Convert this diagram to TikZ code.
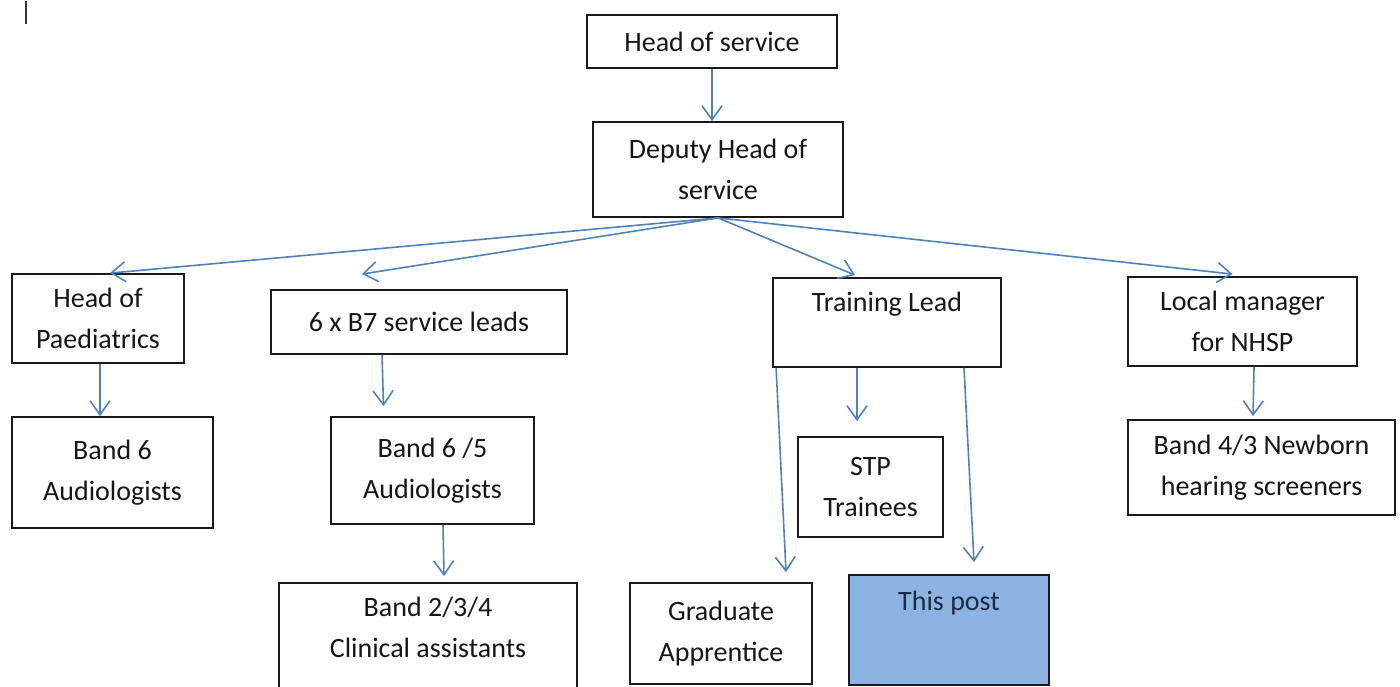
\documentclass[tikz,border=0pt]{standalone}
\usepackage{fontspec}
\setmainfont{Carlito}
\usetikzlibrary{arrows.meta,calc}
\definecolor{arrblue}{HTML}{4F81BD}
\definecolor{postfill}{HTML}{8DB3E2}
\definecolor{posttext}{HTML}{1C2B45}
\definecolor{txtgrey}{HTML}{161616}
\tikzset{
  box/.style={draw=black!90, line width=0.9pt, inner sep=0pt, align=center,
    text=txtgrey, font=\fontsize{14}{20.5}\selectfont},
  arr/.style={draw=arrblue, line width=0.8pt,
    -{Straight Barb[length=7pt,width=10pt,line width=0.8pt]}},
}
\newcommand\bx[7][]{%
  \node[box,#1,minimum width={(#5-#3)*0.5pt},minimum height={(#6-#4)*0.5pt}]
    (#2) at ({(#3+#5)/2},{(#4+#6)/2}) {#7};}
\begin{document}
\begin{tikzpicture}[x=0.5pt,y=-0.5pt]
\useasboundingbox (0,0) rectangle (1400,686);
\clip (0,0) rectangle (1400,686);
\draw[line width=1.3pt, black!80] (26,1) -- (26,24);
\bx{hos}{587}{15}{837}{68}{Head of service}
\bx{dep}{593}{122}{843}{217}{Deputy Head of\\service}
\bx{hp}{12}{274}{184}{363}{Head of\\Paediatrics}
\bx{b6}{12}{417}{213}{528}{Band 6\\Audiologists}
\bx{b7}{271}{290}{567}{354}{6 x B7 service leads}
\bx{b65}{331}{417}{534}{524}{Band 6 /5\\Audiologists}
\bx{b234}{279}{583}{577}{713}{Band 2/3/4\\Clinical assistants\\\mbox{}}
\bx{tl}{773}{278}{1001}{367}{Training Lead\\\mbox{}}
\bx{stp}{798}{437}{943}{537}{STP\\Trainees}
\bx{ga}{630}{583}{812}{684}{Graduate\\Apprentice}
\bx[fill=postfill,text=posttext]{tp}{849}{575}{1049}{685}{This post\\[8.5pt]\mbox{}}
\bx{lm}{1128}{277}{1357}{366}{Local manager\\for NHSP}
\bx{nb}{1128}{420}{1395}{515}{Band 4/3 Newborn\\hearing screeners}
% connectors
\draw[arr] (hos.south) -- (hos.south |- dep.north);
\draw[arr] (dep.south) -- ($(hp.north)+(12,0)$);
\draw[arr] (dep.south) -- ($(b7.north)+(-57,-15)$);
\draw[arr] (dep.south) -- ($(tl.north)+(-32,-2)$);
\draw[arr] (dep.south) -- ($(lm.north)+(-10,-2)$);
\draw[arr] ($(hp.south)+(2,0)$) -- ($(hp.south |- b6.north)+(2,0)$);
\draw[arr] ($(b7.south)+(-37,0)$) -- ($(b65.north)+(-49,-10)$);
\draw[arr] ($(b65.south)+(10.5,0)$) -- ($(b234.north)+(16,-6)$);
\draw[arr] ($(tl.south)+(-30,0)$) -- ($(stp.north)+(-13.5,-15)$);
\draw[arr] ($(tl.south west)+(4,0)$) -- ($(ga.north)+(65,-10)$);
\draw[arr] ($(tl.south)+(77,0)$) -- ($(tp.north)+(25,-12)$);
\draw[arr] ($(lm.south)+(11.5,0)$) -- ($(nb.north)+(-8.5,-3)$);
\end{tikzpicture}
\end{document}
